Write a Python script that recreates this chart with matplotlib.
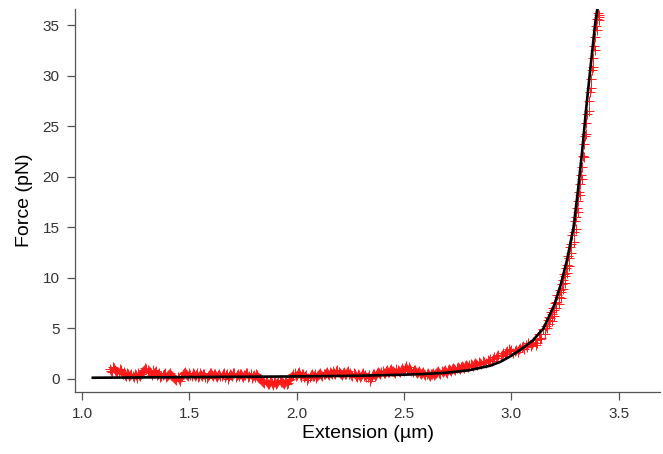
import numpy as np
import matplotlib.pyplot as plt

plt.rcParams['font.family'] = ['Liberation Sans', 'DejaVu Sans']

# measured force-extension data (red crosses)
ext_flat = [1.13, 1.14, 1.15, 1.16, 1.17, 1.18, 1.19, 1.20, 1.21, 1.22,
            1.23, 1.24, 1.25, 1.26, 1.27, 1.28, 1.29, 1.30, 1.31, 1.32,
            1.33, 1.34, 1.35, 1.36, 1.37, 1.38, 1.39, 1.40, 1.41, 1.42,
            1.43, 1.44, 1.45, 1.46, 1.47, 1.48, 1.49, 1.50, 1.51, 1.52,
            1.53, 1.54, 1.55, 1.56, 1.57, 1.58, 1.59, 1.60, 1.61, 1.62,
            1.63, 1.64, 1.65, 1.66, 1.67, 1.68, 1.69, 1.70, 1.71, 1.72,
            1.73, 1.74, 1.75, 1.76, 1.77, 1.78, 1.79, 1.80, 1.81, 1.82,
            1.83, 1.84, 1.85, 1.86, 1.87, 1.88, 1.89, 1.90, 1.91, 1.92,
            1.93, 1.94, 1.95, 1.96, 1.97, 1.98, 1.99, 2.00, 2.01, 2.02,
            2.03, 2.04, 2.05, 2.06, 2.07, 2.08, 2.09, 2.10, 2.11, 2.12,
            2.13, 2.14, 2.15, 2.16, 2.17, 2.18, 2.19, 2.20, 2.21, 2.22,
            2.23, 2.24, 2.25, 2.26, 2.27, 2.28, 2.29, 2.30, 2.31, 2.32,
            2.33, 2.34, 2.35, 2.36, 2.37, 2.38, 2.39, 2.40, 2.41, 2.42,
            2.43, 2.44, 2.45, 2.46, 2.47, 2.48, 2.49, 2.50, 2.51, 2.52,
            2.53, 2.54, 2.55, 2.56, 2.57, 2.58, 2.59, 2.60, 2.61, 2.62,
            2.63, 2.64, 2.65, 2.66, 2.67, 2.68, 2.69, 2.70, 2.71, 2.72,
            2.73, 2.74, 2.75, 2.76, 2.77, 2.78, 2.79, 2.80, 2.81, 2.82]
force_flat = [1.0, 0.7, 1.1, 0.8, 0.6, 0.9, 0.5, 0.4, 0.6, 0.3,
              0.5, 0.2, 0.4, 0.6, 0.3, 0.7, 0.9, 1.0, 0.8, 0.6,
              0.9, 0.7, 0.4, 0.6, 0.3, 0.5, 0.2, 0.4, 0.6, 0.3,
              0.1, -0.1, 0.0, 0.2, 0.5, 0.7, 0.4, 0.6, 0.3, 0.5,
              0.4, 0.2, 0.6, 0.3, 0.5, 0.1, 0.4, 0.6, 0.3, 0.5,
              0.2, 0.5, 0.3, 0.6, 0.4, 0.0, 0.5, 0.3, 0.6, 0.4,
              0.3, 0.5, 0.2, 0.4, 0.6, 0.3, 0.1, 0.4, 0.5, 0.2,
              0.0, -0.2, -0.4, -0.3, -0.5, -0.2, -0.6, -0.3, -0.4, -0.1,
              -0.3, -0.5, -0.2, -0.4, 0.0, 0.3, 0.6, 0.4, 0.7, 0.2,
              0.5, 0.3, -0.1, 0.2, 0.5, 0.3, 0.1, 0.4, 0.6, 0.3,
              0.5, 0.7, 0.4, 0.6, 0.8, 0.5, 0.9, 0.6, 0.4, 0.7,
              0.5, 0.8, 0.6, 0.3, 0.5, 0.2, 0.4, 0.3, 0.6, 0.4,
              0.2, -0.2, 0.3, 0.5, 0.4, 0.7, 0.5, 0.8, 0.6, 0.9,
              0.7, 1.0, 0.8, 0.6, 0.9, 0.7, 1.1, 0.8, 1.3, 0.9,
              1.0, 0.7, 0.9, 0.6, 0.8, 0.5, 0.7, 0.4, 0.6, 0.3,
              0.5, 0.4, 0.6, 0.8, 0.5, 0.7, 0.9, 0.6, 1.0, 0.8,
              1.1, 0.9, 1.2, 1.0, 1.3, 1.1, 1.4, 1.2, 1.5, 1.3]

ext_flat2 = [1.135, 1.145, 1.155, 1.165, 1.175, 1.185, 1.195, 1.205, 1.215, 1.225,
             1.235, 1.245, 1.255, 1.265, 1.275, 1.285, 1.295, 1.305, 1.315, 1.325,
             1.335, 1.345, 1.355, 1.365, 1.375, 1.385, 1.395, 1.405, 1.415, 1.425,
             1.435, 1.445, 1.455, 1.465, 1.475, 1.485, 1.495, 1.505, 1.515, 1.525,
             1.535, 1.545, 1.555, 1.565, 1.575, 1.585, 1.595, 1.605, 1.615, 1.625,
             1.635, 1.645, 1.655, 1.665, 1.675, 1.685, 1.695, 1.705, 1.715, 1.725,
             1.735, 1.745, 1.755, 1.765, 1.775, 1.785, 1.795, 1.805, 1.815, 1.825,
             1.835, 1.845, 1.855, 1.865, 1.875, 1.885, 1.895, 1.905, 1.915, 1.925,
             1.935, 1.945, 1.955, 1.965, 1.975, 1.985, 1.995, 2.005, 2.015, 2.025,
             2.035, 2.045, 2.055, 2.065, 2.075, 2.085, 2.095, 2.105, 2.115, 2.125,
             2.135, 2.145, 2.155, 2.165, 2.175, 2.185, 2.195, 2.205, 2.215, 2.225,
             2.235, 2.245, 2.255, 2.265, 2.275, 2.285, 2.295, 2.305, 2.315, 2.325,
             2.335, 2.345, 2.355, 2.365, 2.375, 2.385, 2.395, 2.405, 2.415, 2.425,
             2.435, 2.445, 2.455, 2.465, 2.475, 2.485, 2.495, 2.505, 2.515, 2.525,
             2.535, 2.545, 2.555, 2.565, 2.575, 2.585, 2.595, 2.605, 2.615, 2.625,
             2.635, 2.645, 2.655, 2.665, 2.675, 2.685, 2.695, 2.705, 2.715, 2.725,
             2.735, 2.745, 2.755, 2.765, 2.775, 2.785, 2.795, 2.805, 2.815, 2.825]
force_flat2 = [0.8, 1.2, 0.9, 0.7, 1.0, 0.6, 0.7, 0.3, 0.5, 0.4,
               0.3, 0.5, 0.1, 0.4, 0.5, 0.8, 1.1, 0.9, 0.7, 0.4,
               0.6, 0.8, 0.5, 0.2, 0.4, 0.6, 0.3, 0.5, 0.4, 0.2,
               0.0, 0.2, -0.2, 0.3, 0.6, 0.5, 0.3, 0.4, 0.6, 0.3,
               0.6, 0.3, 0.4, 0.5, 0.2, 0.3, 0.6, 0.4, 0.5, 0.3,
               0.4, 0.3, 0.5, 0.2, 0.5, 0.3, 0.4, 0.6, 0.2, 0.5,
               0.5, 0.3, 0.4, 0.6, 0.2, 0.5, 0.3, 0.2, 0.4, 0.1,
               -0.1, -0.3, -0.2, -0.5, -0.3, -0.4, -0.3, -0.5, -0.2, -0.3,
               -0.4, -0.3, -0.5, -0.1, 0.2, 0.5, 0.3, 0.6, 0.4, 0.5,
               0.2, 0.4, 0.1, 0.4, 0.3, 0.5, 0.3, 0.5, 0.4, 0.5,
               0.6, 0.5, 0.7, 0.5, 0.6, 0.8, 0.7, 0.5, 0.6, 0.5,
               0.7, 0.5, 0.4, 0.6, 0.3, 0.5, 0.2, 0.5, 0.3, 0.2,
               0.4, 0.1, 0.5, 0.3, 0.6, 0.6, 0.7, 0.6, 0.8, 0.7,
               0.9, 0.8, 0.7, 1.0, 0.8, 0.9, 0.9, 1.1, 1.0, 1.2,
               0.8, 0.9, 0.7, 0.7, 0.6, 0.6, 0.5, 0.5, 0.4, 0.5,
               0.6, 0.5, 0.7, 0.6, 0.8, 0.8, 0.7, 0.9, 0.9, 1.0,
               1.0, 1.1, 1.1, 1.2, 1.2, 1.3, 1.3, 1.4, 1.4, 1.5]

ext_knee = [2.83, 2.84, 2.85, 2.86, 2.87, 2.88, 2.89, 2.90, 2.91,
            2.92, 2.93, 2.94, 2.95, 2.96, 2.97, 2.98, 2.99, 3.00,
            2.835, 2.855, 2.875, 2.895, 2.915, 2.935, 2.955, 2.975, 2.995]
force_knee = [1.6, 1.4, 1.7, 1.5, 1.8, 1.6, 1.9, 2.0, 1.8,
              2.2, 2.1, 2.4, 2.3, 2.6, 2.5, 2.8, 3.0, 2.9,
              1.5, 1.6, 1.7, 1.8, 2.0, 2.3, 2.4, 2.7, 2.8]

ext_rise = [3.01, 3.02, 3.03, 3.04, 3.05, 3.06, 3.07, 3.08, 3.09, 3.10,
            3.11, 3.12, 3.13, 3.14, 3.15, 3.16, 3.165, 3.17, 3.175, 3.18,
            3.185, 3.19, 3.195, 3.20, 3.205, 3.21, 3.215, 3.22, 3.225, 3.23,
            3.235, 3.24, 3.245, 3.25, 3.255, 3.26, 3.265, 3.27, 3.275, 3.28,
            3.285, 3.29, 3.295, 3.30, 3.305, 3.31, 3.315, 3.32, 3.325, 3.33,
            3.335, 3.34, 3.345, 3.35, 3.355, 3.36, 3.365, 3.37, 3.375, 3.38,
            3.385, 3.39, 3.395, 3.40, 3.405, 3.41, 3.408]
force_rise = [2.6, 2.9, 2.7, 3.1, 3.2, 3.0, 3.4, 3.6, 3.3, 3.7,
              3.9, 3.6, 4.4, 4.1, 4.9, 5.2, 5.0, 5.8, 6.1, 6.0,
              6.6, 6.4, 7.0, 6.8, 7.5, 7.6, 8.3, 8.1, 8.8, 8.6,
              9.4, 9.8, 10.4, 10.2, 11.0, 11.3, 12.2, 12.0, 13.1, 13.4,
              14.2, 14.5, 15.6, 16.0, 16.9, 17.6, 18.5, 19.3, 20.2, 21.0,
              22.1, 23.2, 24.0, 25.3, 26.2, 27.5, 28.4, 29.7, 30.6, 31.8,
              32.9, 33.8, 34.9, 35.6, 36.2, 36.0, 35.5]

ext_rise2 = [3.015, 3.035, 3.055, 3.075, 3.095, 3.115, 3.135, 3.155, 3.175, 3.19,
             3.20, 3.21, 3.22, 3.23, 3.24, 3.25, 3.26, 3.27, 3.28, 3.29,
             3.30, 3.31, 3.32, 3.33, 3.34, 3.35, 3.36, 3.37, 3.38, 3.39,
             3.40, 3.41]
force_rise2 = [2.8, 3.0, 3.3, 3.2, 3.5, 3.4, 4.0, 4.4, 5.4, 5.7,
               6.2, 7.0, 7.4, 8.0, 8.9, 9.5, 10.5, 11.2, 12.5, 13.6,
               14.8, 16.5, 18.2, 19.8, 22.0, 24.2, 26.5, 28.8, 30.9, 32.6,
               34.5, 35.8]

# fitted curve (black line)
fit_ext = [1.05, 1.5, 2.0, 2.3, 2.5, 2.6, 2.7, 2.8, 2.9, 2.95, 3.0, 3.05,
           3.10, 3.15, 3.20, 3.23, 3.26, 3.29, 3.31, 3.33, 3.35, 3.37, 3.39, 3.40]
fit_force = [0.12, 0.18, 0.25, 0.32, 0.42, 0.5, 0.62, 0.85, 1.3, 1.7, 2.3, 3.0,
             3.8, 5.0, 7.3, 9.3, 11.8, 15.0, 18.5, 22.5, 27.0, 31.0, 35.0, 36.5]

ext_data = ext_flat + ext_flat2 + ext_knee + ext_rise + ext_rise2
force_data = force_flat + force_flat2 + force_knee + force_rise + force_rise2

fig = plt.figure(figsize=(6.63, 4.54), dpi=100)
ax = fig.add_axes([0.1131, 0.1366, 0.8824, 0.8434])

ax.plot(ext_data, force_data, linestyle='none', marker='+', color='#ff1a1a',
        markersize=6.5, markeredgewidth=0.7, zorder=2)
ax.plot(fit_ext, fit_force, color='black', lw=1.9, zorder=3)

ax.set_xlim(0.967, 3.693)
ax.set_ylim(-1.29, 36.6)
ax.set_xticks([1.0, 1.5, 2.0, 2.5, 3.0, 3.5])
ax.set_yticks([0, 5, 10, 15, 20, 25, 30, 35])

for side in ['top', 'right']:
    ax.spines[side].set_visible(False)
for side in ['left', 'bottom']:
    ax.spines[side].set_color('#555555')
    ax.spines[side].set_linewidth(0.9)

ax.tick_params(direction='out', length=6, width=0.9, color='#555555',
               labelsize=11, labelcolor='#333333', pad=5)
ax.set_xlabel("Extension (\u00b5m)", fontsize=14, labelpad=3)
ax.set_ylabel("Force (pN)", fontsize=14, labelpad=7)

fig.savefig("out.png", dpi=100)
